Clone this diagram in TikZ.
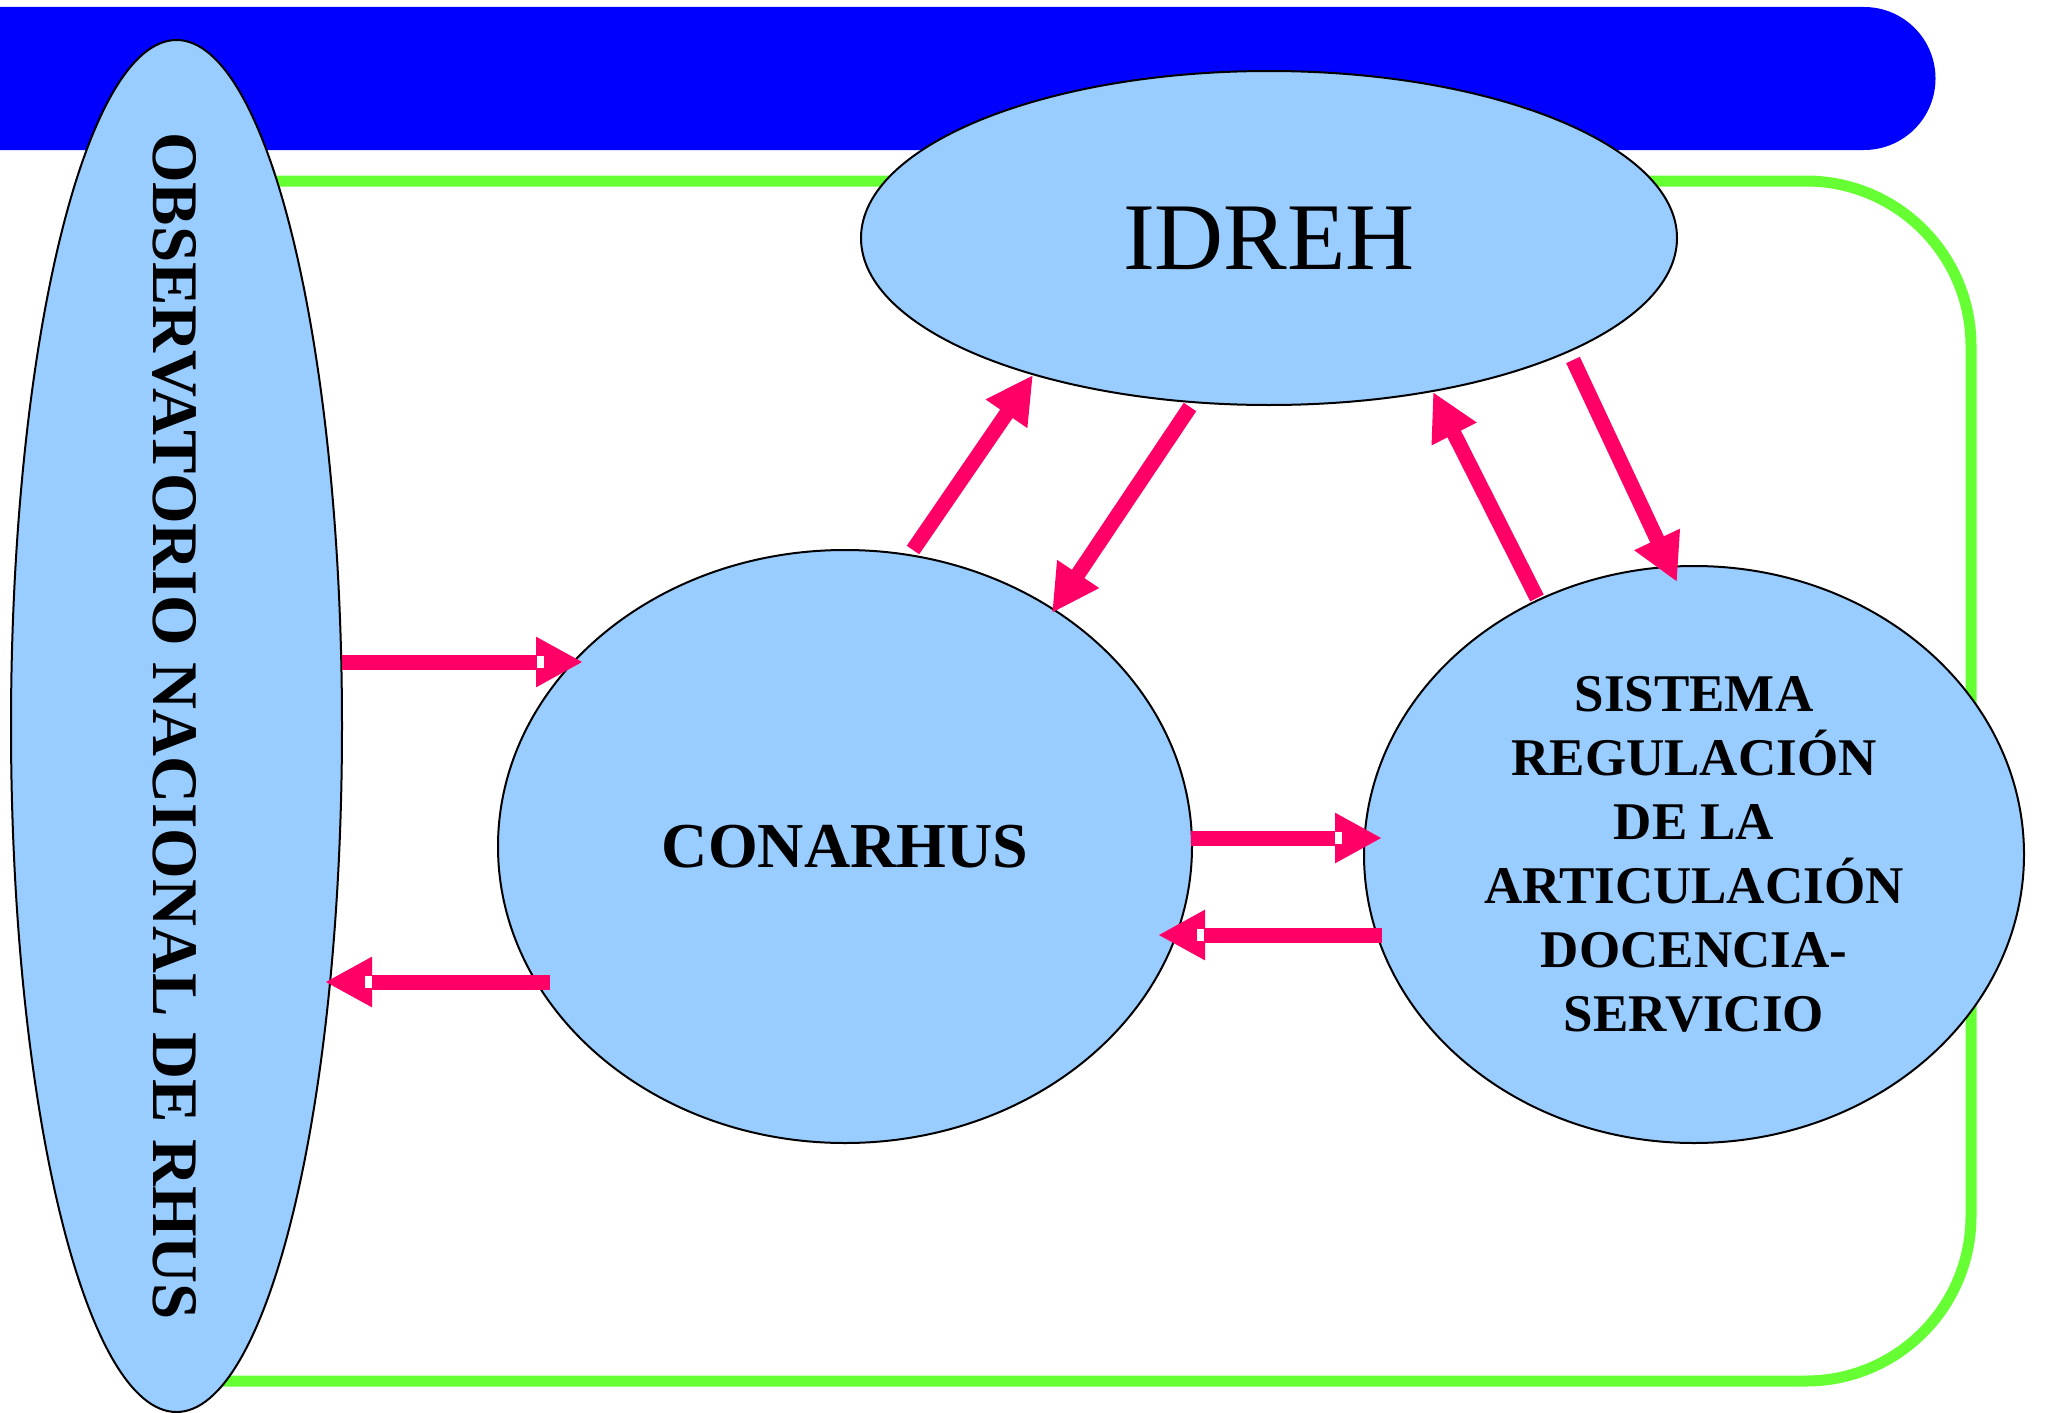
\documentclass[tikz,border=0pt]{standalone}
\usepackage{fontspec}
\setmainfont{Liberation Serif}
\usetikzlibrary{shapes.geometric,arrows.meta}
\definecolor{barblue}{RGB}{0,0,255}
\definecolor{framegreen}{RGB}{102,255,51}
\definecolor{ellfill}{RGB}{153,204,255}
\definecolor{arrpink}{RGB}{255,0,102}
\begin{document}
\begin{tikzpicture}[x=1pt,y=-1pt,
  ell/.style={ellipse, draw=black, line width=2pt, fill=ellfill, inner sep=0pt},
  arr/.style={draw=arrpink, line width=15pt, -{Triangle[length=47pt,width=47pt]}},
  notch/.style={fill=white}]
\useasboundingbox (0,0) rectangle (2070,1413);
% blue header bar
\fill[barblue] (0,7) -- (1864,7) arc[start angle=-90, end angle=90, radius=71.5] -- (0,150) -- cycle;
% green frame
\draw[framegreen, line width=11pt] (176,181) -- (1806,181)
  arc[start angle=-90, end angle=0, radius=165] -- (1971,1216)
  arc[start angle=0, end angle=90, radius=165] -- (176,1381) -- cycle;
% ellipses
\node[ell, minimum width=331pt, minimum height=1372pt] (obs) at (176.5,726) {};
\node[rotate=-90, font=\bfseries\fontsize{65}{65}\selectfont] (obstext) at (175,726) {OBSERVATORIO NACIONAL DE RHUS};
\node[ell, minimum width=816pt, minimum height=334pt, font=\fontsize{95.5}{95.5}\selectfont] (idreh) at (1269,238) {IDREH};
\node[ell, minimum width=694pt, minimum height=593pt, font=\bfseries\fontsize{64}{64}\selectfont] (conarhus) at (845,846.5) {CONARHUS};
\node[ell, minimum width=660pt, minimum height=577pt, align=center, font=\bfseries\fontsize{53}{64}\selectfont] (sistema) at (1694,854.5)
  {SISTEMA\\REGULACIÓN\\DE LA\\ARTICULACIÓN\\DOCENCIA-\\SERVICIO};
% arrow end points
\coordinate (a1s) at (342,662);  \coordinate (a1e) at (583,662);
\coordinate (a2s) at (550,982);  \coordinate (a2e) at (325,982);
\coordinate (a3s) at (1191,838); \coordinate (a3e) at (1382,838);
\coordinate (a4s) at (1382,935); \coordinate (a4e) at (1158,935);
\coordinate (a5s) at (913,550);  \coordinate (a5e) at (1033,375);
\coordinate (a6s) at (1190,407); \coordinate (a6e) at (1052,613);
\coordinate (a7s) at (1537,598); \coordinate (a7e) at (1433,392);
\coordinate (a8s) at (1573,360); \coordinate (a8e) at (1677,582);
% arrows
\draw[arr] (a1s) -- (a1e);
\fill[notch] (537,656) rectangle (544,668);
\draw[arr] (a2s) -- (a2e);
\fill[notch] (365,976) rectangle (372,988);
\draw[arr] (a3s) -- (a3e);
\fill[notch] (1335,832) rectangle (1342,844);
\draw[arr] (a4s) -- (a4e);
\fill[notch] (1197,929) rectangle (1204,941);
\draw[arr] (a5s) -- (a5e);
\draw[arr] (a6s) -- (a6e);
\draw[arr] (a7s) -- (a7e);
\draw[arr] (a8s) -- (a8e);
\end{tikzpicture}
\end{document}
